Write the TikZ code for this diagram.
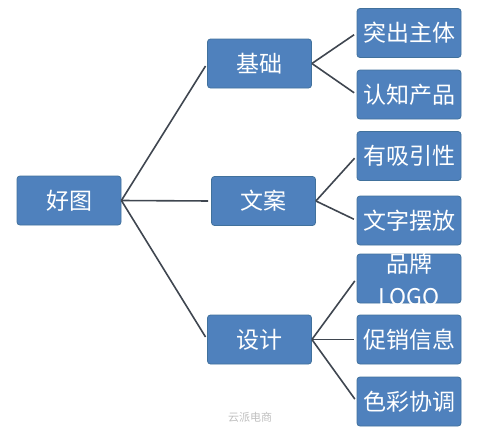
\documentclass[tikz,border=0pt]{standalone}
\usepackage{fontspec}
\newfontfamily\cjk{Noto Sans CJK SC}
\definecolor{boxfill}{HTML}{4F81BD}
\definecolor{boxline}{HTML}{41719C}
\definecolor{linkc}{HTML}{3F4650}
\tikzset{
  bx/.style={draw=boxline, line width=0.8pt, fill=boxfill, rounded corners=3pt,
    minimum width=104pt, minimum height=49pt, inner sep=0pt,
    text=white, font=\cjk\fontsize{23}{33}\selectfont, align=center},
  link/.style={draw=linkc, line width=1.6pt, shorten >=3pt}
}
\begin{document}
\begin{tikzpicture}[x=1pt,y=-1pt]
\useasboundingbox (0,0) rectangle (480,432);
\node[bx] (root) at (69,200.5) {好图};
\node[bx] (jc) at (259.5,63.5) {基础};
\node[bx] (wa) at (263.5,201) {文案};
\node[bx] (sj) at (259.5,339.5) {设计};
\node[bx] (l1) at (409,33) {突出主体};
\node[bx] (l2) at (409,94.5) {认知产品};
\node[bx] (l3) at (409,156) {有吸引性};
\node[bx] (l4) at (409,220.5) {文字摆放};
\node[bx] (l5) at (409,278.5) {};
\node[text=white, font=\cjk\fontsize{23}{33}\selectfont, align=center, inner sep=0pt] (l5t) at (409,279) {品牌\\LOGO};
\node[bx] (l6) at (409,339.5) {促销信息};
\node[bx] (l7) at (409,401.5) {色彩协调};
\draw[link] (root.east) -- (jc.west);
\draw[link] (root.east) -- (wa.west);
\draw[link] (root.east) -- (sj.west);
\draw[link] (jc.east) -- (l1.west);
\draw[link] (jc.east) -- (l2.west);
\draw[link] (wa.east) -- (l3.west);
\draw[link] (wa.east) -- (l4.west);
\draw[link] (sj.east) -- (l5.west);
\draw[link] (sj.east) -- (l6.west);
\draw[link] (sj.east) -- (l7.west);
\node[text=black!25, font=\cjk\fontsize{11}{13}\selectfont, inner sep=0pt] (wm) at (250,417) {云派电商};
\end{tikzpicture}
\end{document}
